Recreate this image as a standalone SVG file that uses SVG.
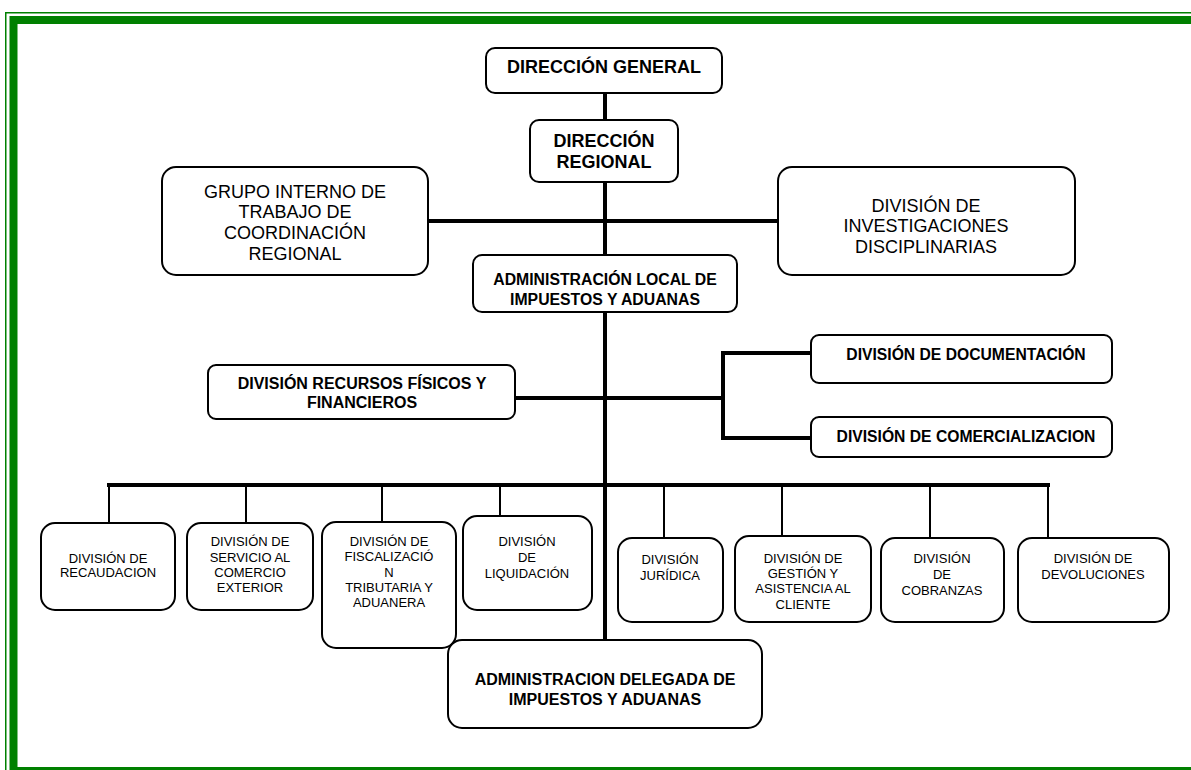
<svg xmlns="http://www.w3.org/2000/svg" width="1191" height="770" viewBox="0 0 1191 770">
<style>
.box{fill:#fff;stroke:#000;stroke-width:2}
.t{font-family:"Liberation Sans",Arial,sans-serif;fill:#000;text-anchor:middle}
.b{font-weight:bold}
.thick{stroke:#000;stroke-width:4;fill:none}
.thin{stroke:#000;stroke-width:2;fill:none}
.frame{stroke:#008000;fill:none}
</style>
<rect width="1191" height="770" fill="#fff"/>
<g id="frame">
<path class="frame" d="M5.75,770 V12.75 H1191" stroke-width="1.5"/>
<path class="frame" d="M13.5,770 V20 H1191" stroke-width="8"/>
<path class="frame" d="M10,768.5 H1191" stroke-width="3"/>
</g>
<g id="connectors">
<path class="thick" d="M605,93 V640"/>
<path class="thick" d="M428,221 H778"/>
<path class="thick" d="M515,398 H723"/>
<path class="thick" d="M723,353 V438 M721,353 H811 M721,438 H811"/>
<path class="thick" d="M107,485 H1050"/>
<path class="thin" d="M109,485 V523 M246,485 V523 M382,485 V522 M500,485 V516 M664,485 V538 M782,485 V536 M930,485 V538 M1048,485 V538"/>
</g>
<g id="dg"><rect class="box" x="486" y="48" width="236" height="45" rx="9"/>
<text class="t b" x="604" y="73" font-size="18">DIRECCIÓN GENERAL</text></g>
<g id="dr"><rect class="box" x="530" y="120" width="148" height="62" rx="9"/>
<text class="t b" x="604" y="147" font-size="18">DIRECCIÓN</text>
<text class="t b" x="604" y="168" font-size="18">REGIONAL</text></g>
<g id="grupo"><rect class="box" x="162" y="167" width="266" height="108" rx="14"/>
<text class="t" x="295" y="198" font-size="18">GRUPO INTERNO DE</text>
<text class="t" x="295" y="218" font-size="18">TRABAJO DE</text>
<text class="t" x="295" y="239" font-size="18">COORDINACIÓN</text>
<text class="t" x="295" y="260" font-size="18">REGIONAL</text></g>
<g id="investigaciones"><rect class="box" x="778" y="167" width="297" height="108" rx="14"/>
<text class="t" x="926" y="212" font-size="18">DIVISIÓN DE</text>
<text class="t" x="926" y="232" font-size="18">INVESTIGACIONES</text>
<text class="t" x="926" y="253" font-size="18">DISCIPLINARIAS</text></g>
<g id="admin-local"><rect class="box" x="473" y="255" width="264" height="57" rx="9"/>
<text class="t b" x="605" y="285" font-size="15.8">ADMINISTRACIÓN LOCAL DE</text>
<text class="t b" x="605" y="305" font-size="15.8">IMPUESTOS Y ADUANAS</text></g>
<g id="recursos"><rect class="box" x="208" y="365" width="307" height="54" rx="8"/>
<text class="t b" x="362" y="389" font-size="16">DIVISIÓN RECURSOS FÍSICOS Y</text>
<text class="t b" x="362" y="408" font-size="16">FINANCIEROS</text></g>
<g id="documentacion"><rect class="box" x="811" y="335" width="301" height="48" rx="8"/>
<text class="t b" x="966" y="360" font-size="15.7">DIVISIÓN DE DOCUMENTACIÓN</text></g>
<g id="comercializacion"><rect class="box" x="811" y="417" width="301" height="40" rx="8"/>
<text class="t b" x="966" y="442" font-size="15.7">DIVISIÓN DE COMERCIALIZACION</text></g>
<g id="recaudacion"><rect class="box" x="41" y="523" width="134" height="87" rx="14"/>
<text class="t" x="108" y="563" font-size="13">DIVISIÓN DE</text>
<text class="t" x="108" y="577" font-size="13">RECAUDACION</text></g>
<g id="servicio"><rect class="box" x="187" y="523" width="126" height="87" rx="14"/>
<text class="t" x="250" y="546" font-size="13">DIVISIÓN DE</text>
<text class="t" x="250" y="562" font-size="13">SERVICIO AL</text>
<text class="t" x="250" y="577" font-size="13">COMERCIO</text>
<text class="t" x="250" y="592" font-size="13">EXTERIOR</text></g>
<g id="fiscalizacion"><rect class="box" x="322" y="522" width="134" height="126" rx="14"/>
<text class="t" x="389" y="546" font-size="13">DIVISIÓN DE</text>
<text class="t" x="389" y="561" font-size="13">FISCALIZACIÓ</text>
<text class="t" x="389" y="577" font-size="13">N</text>
<text class="t" x="389" y="592" font-size="13">TRIBUTARIA Y</text>
<text class="t" x="389" y="607" font-size="13">ADUANERA</text></g>
<g id="liquidacion"><rect class="box" x="463" y="516" width="129" height="94" rx="14"/>
<text class="t" x="527" y="546" font-size="13">DIVISIÓN</text>
<text class="t" x="527" y="562" font-size="13">DE</text>
<text class="t" x="527" y="578" font-size="13">LIQUIDACIÓN</text></g>
<g id="juridica"><rect class="box" x="618" y="538" width="105" height="84" rx="14"/>
<text class="t" x="670" y="564" font-size="13">DIVISIÓN</text>
<text class="t" x="670" y="580" font-size="13">JURÍDICA</text></g>
<g id="gestion"><rect class="box" x="735" y="536" width="136" height="86" rx="14"/>
<text class="t" x="803" y="563" font-size="13">DIVISIÓN DE</text>
<text class="t" x="803" y="578" font-size="13">GESTIÓN Y</text>
<text class="t" x="803" y="593" font-size="13">ASISTENCIA AL</text>
<text class="t" x="803" y="609" font-size="13">CLIENTE</text></g>
<g id="cobranzas"><rect class="box" x="881" y="538" width="123" height="84" rx="14"/>
<text class="t" x="942" y="563" font-size="13">DIVISIÓN</text>
<text class="t" x="942" y="579" font-size="13">DE</text>
<text class="t" x="942" y="595" font-size="13">COBRANZAS</text></g>
<g id="devoluciones"><rect class="box" x="1018" y="538" width="151" height="84" rx="14"/>
<text class="t" x="1093" y="563" font-size="13">DIVISIÓN DE</text>
<text class="t" x="1093" y="579" font-size="13">DEVOLUCIONES</text></g>
<g id="admin-delegada"><rect class="box" x="448" y="640" width="314" height="88" rx="14"/>
<text class="t b" x="605" y="685" font-size="16">ADMINISTRACION DELEGADA DE</text>
<text class="t b" x="605" y="705" font-size="16">IMPUESTOS Y ADUANAS</text></g>
</svg>
